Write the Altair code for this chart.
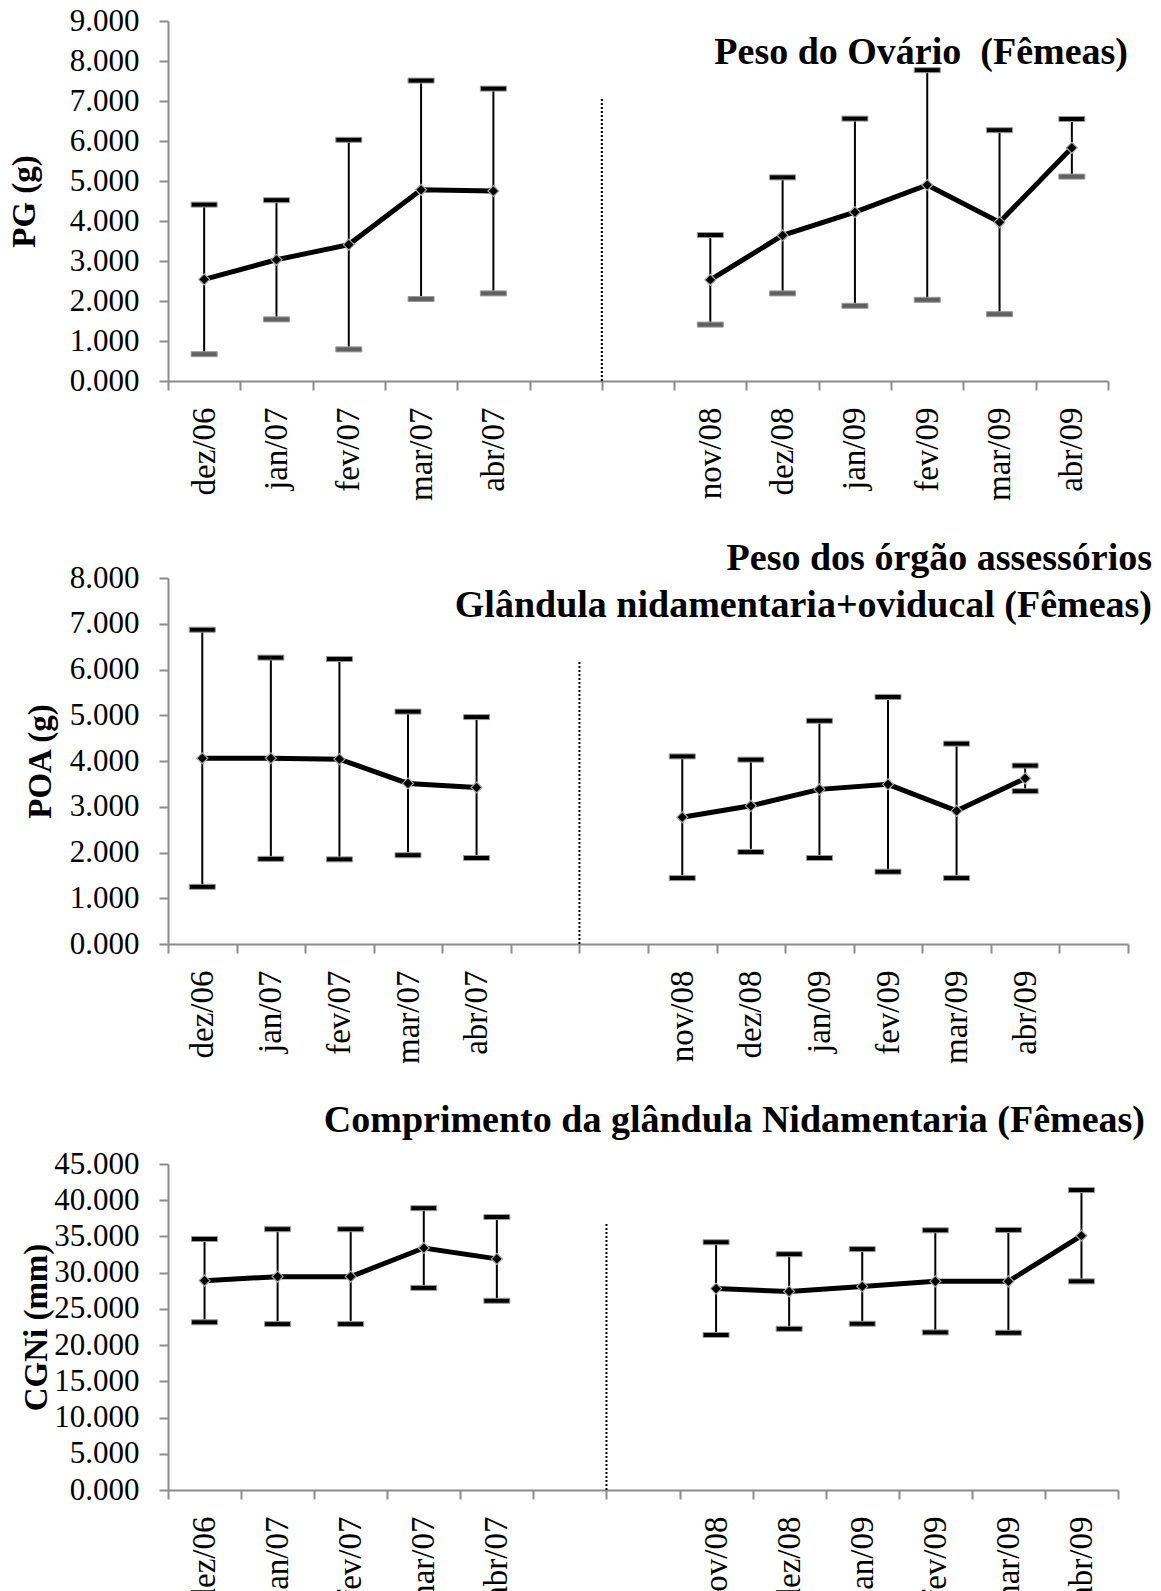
import altair as alt
import pandas as pd

# Meses amostrados nos dois períodos
meses_a = ["dez/06", "jan/07", "fev/07", "mar/07", "abr/07"]
meses_b = ["nov/08", "dez/08", "jan/09", "fev/09", "mar/09", "abr/09"]
meses = meses_a + meses_b
periodo = ["2006-07"] * len(meses_a) + ["2008-09"] * len(meses_b)

# Peso do ovário, PG (g): média e desvio padrão
pg_media = [2.54, 3.03, 3.41, 4.78, 4.75, 2.53, 3.64, 4.22, 4.90, 3.97, 5.83]
pg_dp = [1.87, 1.49, 2.62, 2.73, 2.56, 1.12, 1.45, 2.34, 2.87, 2.30, 0.72]

# Peso dos órgãos acessórios, POA (g)
poa_media = [4.06, 4.06, 4.04, 3.51, 3.42, 2.77, 3.02, 3.38, 3.49, 2.91, 3.62]
poa_dp = [2.81, 2.20, 2.19, 1.57, 1.54, 1.33, 1.01, 1.50, 1.91, 1.47, 0.28]

# Comprimento da glândula nidamentária, CGNi (mm)
cgni_media = [28.9, 29.45, 29.45, 33.4, 31.9, 27.8, 27.4, 28.1, 28.8, 28.8, 35.1]
cgni_dp = [5.75, 6.55, 6.55, 5.5, 5.78, 6.4, 5.15, 5.15, 7.05, 7.1, 6.3]

# Eixo x: categorias em branco separam os dois períodos
vazio_1, vazio_2, vazio_3 = " ", "  ", "   "
dominio_13 = meses_a + [vazio_1, vazio_2] + meses_b
dominio_14 = dominio_13 + [vazio_3]

FONTE = "Liberation Serif"
CINZA = "#8c8c8c"


def painel(titulo, titulo_y, media, dp, dominio, y_max, n_ticks, topo_divisor,
           largura, altura, cor_cap_inf, pad_titulo_y, titulo_offset, titulo_dx):
    df = pd.DataFrame({
        "mes": meses,
        "media": media,
        "inf": [m - s for m, s in zip(media, dp)],
        "sup": [m + s for m, s in zip(media, dp)],
        "periodo": periodo,
    })
    divisor = pd.DataFrame({"mes": [vazio_2], "y0": [0.0], "y1": [topo_divisor]})

    escala_x = alt.Scale(type="band", domain=dominio, paddingInner=0, paddingOuter=0)
    eixo_x = alt.Axis(labelAngle=-90, tickBand="extent", tickSize=9, labelPadding=17,
                      labelFontSize=33, labelOverlap=False)
    x = alt.X("mes:N", scale=escala_x, title=None, axis=eixo_x)

    escala_y = alt.Scale(domain=[0, y_max], nice=False)
    eixo_y = alt.Axis(format=".3f", tickCount=n_ticks, tickSize=9, labelPadding=20,
                      labelOverlap=False, titlePadding=pad_titulo_y)

    base = alt.Chart(df)
    barras = base.mark_rule(color="black", strokeWidth=2).encode(
        x=x, y=alt.Y("inf:Q", scale=escala_y, title=titulo_y, axis=eixo_y),
        y2="sup:Q")
    cap_sup = base.mark_tick(size=26, thickness=5, color="black", stroke="#9a9a9a",
                             strokeWidth=1, opacity=1).encode(x=x, y="sup:Q")
    cap_inf = base.mark_tick(size=26, thickness=5, color=cor_cap_inf, stroke="#9a9a9a",
                             strokeWidth=1, opacity=1).encode(x=x, y="inf:Q")
    linha = base.mark_line(color="black", strokeWidth=5).encode(
        x=x, y="media:Q", detail="periodo:N")
    pontos = base.mark_point(shape="diamond", filled=True, fill="black",
                             stroke="#a8a8a8", strokeWidth=1.2, size=120,
                             opacity=1).encode(x=x, y="media:Q")
    linha_div = alt.Chart(divisor).mark_rule(
        color="black", strokeWidth=2, strokeDash=[2, 2]).encode(
        x=alt.X("mes:N", scale=escala_x, title=None, axis=eixo_x, bandPosition=0),
        y=alt.Y("y0:Q", scale=escala_y, title=titulo_y, axis=eixo_y), y2="y1:Q")

    return alt.layer(barras, linha_div, linha, cap_sup, cap_inf, pontos).properties(
        width=largura, height=altura,
        title=alt.Title(titulo, anchor="end", frame="group", lineHeight=47,
                        offset=titulo_offset, dx=titulo_dx))


p1 = painel("Peso do Ovário \u00a0(Fêmeas)", "PG (g)", pg_media, pg_dp, dominio_13,
            9, 9, 7.1, 940, 360, "#606060", 28, -67, 20)
p2 = painel(["Peso dos órgão assessórios", "Glândula nidamentaria+oviducal (Fêmeas)"],
            "POA (g)", poa_media, poa_dp, dominio_14, 8, 8, 6.2, 960, 366, "black",
            12, -62.5, 24)
p3 = painel("Comprimento da glândula Nidamentaria (Fêmeas)", "CGNi (mm)", cgni_media,
            cgni_dp, dominio_13, 45, 9, 37.0, 950, 326, "black", 0, 8, 27)

chart = alt.vconcat(p1, p2, p3, spacing=38).properties(
    padding={"left": 8, "top": 5, "right": 5, "bottom": 5}
).configure_view(
    stroke=None
).configure_axis(
    labelFont=FONTE, labelFontSize=31, labelColor="black",
    titleFont=FONTE, titleColor="black", titleFontSize=33, titleFontWeight="bold",
    domainColor=CINZA, domainWidth=2, tickColor=CINZA, tickWidth=2, grid=False,
).configure_title(font=FONTE, fontSize=38, fontWeight="bold", color="black")

chart.save("out.html", embed_options={"renderer": "svg", "actions": False})
